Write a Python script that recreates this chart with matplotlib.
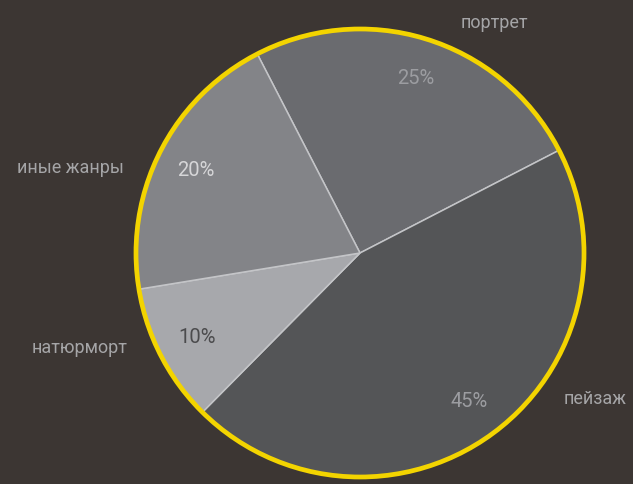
import matplotlib.pyplot as plt
from matplotlib.patches import Circle
import numpy as np

genres = ["портрет", "пейзаж", "натюрморт", "иные жанры"]
shares = [25, 45, 10, 20]
pct_labels = ["25%", "45%", "10%", "20%"]

slice_colors = ["#6a6b6f", "#545557", "#a7a8ac", "#838488"]
pct_colors = ["#9c9da1", "#9c9da1", "#4b4b4d", "#d6d6d8"]
# small angular nudges (degrees) to move the outer labels toward the horizontal
label_nudge = [-6, 18, -5, 7]

plt.rcParams['font.family'] = ['Roboto', 'DejaVu Sans']

fig = plt.figure(figsize=(6.33, 4.84), dpi=100)
fig.patch.set_facecolor("#3c3633")
ax = fig.add_axes([136 / 633, 7 / 484, 448 / 633, 448 / 484])
ax.set_facecolor("#3c3633")

wedges, texts = ax.pie(shares, colors=slice_colors, startangle=117.3,
                       counterclock=False, radius=1,
                       wedgeprops=dict(edgecolor="#c4c5c8", linewidth=1.1))

for w, pct, col in zip(wedges, pct_labels, pct_colors):
    mid = np.deg2rad((w.theta1 + w.theta2) / 2)
    ax.text(0.82 * np.cos(mid), 0.82 * np.sin(mid), pct, color=col,
            fontsize=14.5, ha="center", va="center")

for w, name, nudge in zip(wedges, genres, label_nudge):
    mid = np.deg2rad((w.theta1 + w.theta2) / 2 + nudge)
    x = 1.12 * np.cos(mid)
    y = 1.12 * np.sin(mid)
    ax.text(x, y, name, color="#a5a5a7", fontsize=13,
            ha="left" if x > 0 else "right", va="center")

ax.add_patch(Circle((0, 0), 1.0, fill=False, edgecolor="#f3d400",
                    linewidth=3.4, clip_on=False))

ax.set_xlim(-1, 1)
ax.set_ylim(-1, 1)
ax.set_aspect("equal")
ax.axis("off")

fig.savefig("out.png", dpi=100, facecolor=fig.get_facecolor())
